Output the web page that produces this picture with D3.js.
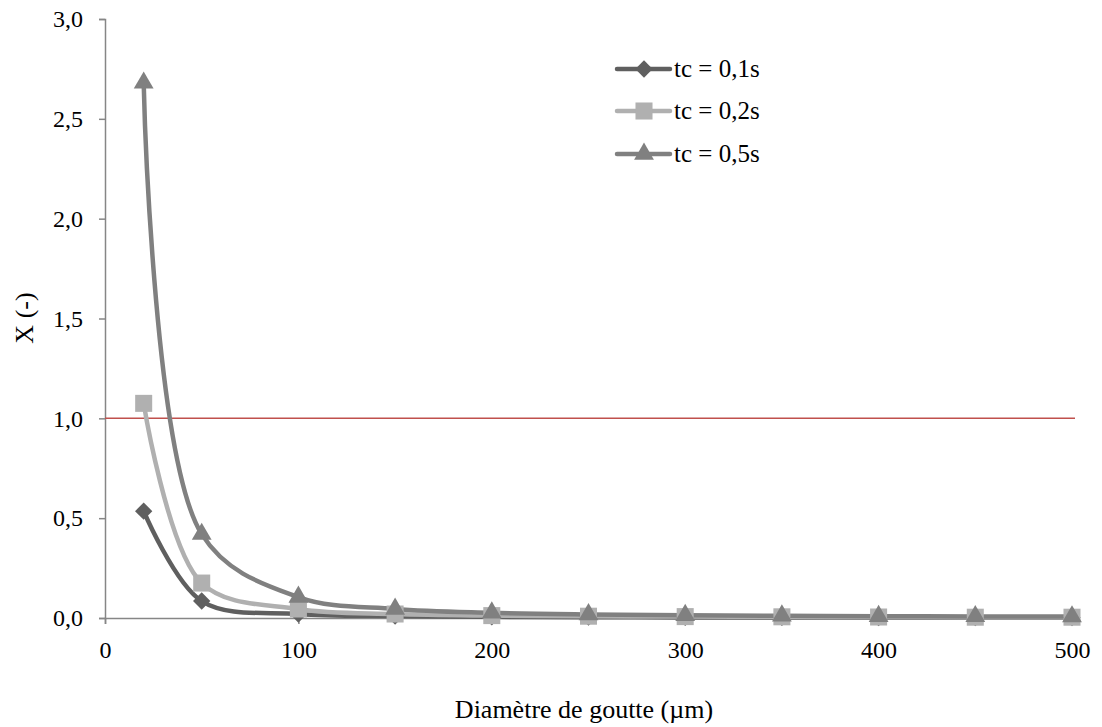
<!DOCTYPE html>
<html><head><meta charset="utf-8">
<script src="https://cdn.jsdelivr.net/npm/d3@7"></script>
<style>body{margin:0;background:#fff} #c, #c text{font-family:"Liberation Serif",serif !important}</style>
</head><body><svg id="c" width="1102" height="727" font-family="Liberation Serif"></svg>
<script>
const diameters = [20, 50, 100, 150, 200, 250, 300, 350, 400, 450, 500];
const tc01 = [0.535, 0.085, 0.02, 0.01, 0.006, 0.004, 0.003, 0.003, 0.002, 0.002, 0.002];
const tc02 = [1.075, 0.175, 0.045, 0.02, 0.012, 0.009, 0.007, 0.006, 0.005, 0.004, 0.004];
const tc05 = [2.68, 0.42, 0.105, 0.045, 0.026, 0.018, 0.014, 0.011, 0.009, 0.008, 0.007];
const seriesNames = ["tc = 0,1s", "tc = 0,2s", "tc = 0,5s"];
const xTicks = [0, 100, 200, 300, 400, 500];
const yTicks = [0, 0.5, 1.0, 1.5, 2.0, 2.5, 3.0];
const threshold = 1.0;

const FONT = "Liberation Serif";
const svg = d3.select("#c");
const x = d3.scaleLinear().domain([0, 500]).range([105, 1072]);
const y = d3.scaleLinear().domain([0, 3]).range([618, 19]);
const fmt = d => d.toFixed(1).replace(".", ",");

const axisColor = "#868686";
const ya = svg.append("g").attr("transform", "translate(105,0)")
  .call(d3.axisLeft(y).tickValues(yTicks).tickFormat(fmt).tickSize(6).tickPadding(16));
ya.attr("font-family", FONT).attr("font-size", 24);
ya.select(".domain").attr("stroke", axisColor).attr("stroke-width", 1.5);
ya.selectAll(".tick line").attr("stroke", axisColor).attr("stroke-width", 1.5);
ya.selectAll(".tick text").attr("fill", "#000");

const xa = svg.append("g").attr("transform", "translate(0,618)")
  .call(d3.axisBottom(x).tickValues(xTicks).tickFormat(d3.format("d")).tickSize(6).tickPadding(17));
xa.attr("font-family", FONT).attr("font-size", 24);
xa.select(".domain").attr("stroke", axisColor).attr("stroke-width", 1.5);
xa.selectAll(".tick line").attr("stroke", axisColor).attr("stroke-width", 1.5);
xa.selectAll(".tick text").attr("fill", "#000");

svg.append("line").attr("x1", x(0)).attr("x2", 1075).attr("y1", y(threshold)).attr("y2", y(threshold))
  .attr("stroke", "#c0504d").attr("stroke-width", 1.5);

const series = [
  {name: seriesNames[0], vals: tc01, color: "#5f5f5f", shape: d3.symbolSquare, size: 150, rot: 45},
  {name: seriesNames[1], vals: tc02, color: "#b0b0b0", shape: d3.symbolSquare, size: 290, rot: 0},
  {name: seriesNames[2], vals: tc05, color: "#808080", shape: d3.symbolTriangle, size: 170, rot: 0},
];
const line = d3.line().x(d => x(d[0])).y(d => y(d[1])).curve(d3.curveCatmullRom.alpha(0.5));

series.forEach(s => {
  const pts = diameters.map((d, i) => [d, s.vals[i]]);
  svg.append("path").attr("d", line(pts)).attr("fill", "none").attr("stroke", s.color)
    .attr("stroke-width", 4.5).attr("stroke-linecap", "round");
});
series.forEach(s => {
  const pts = diameters.map((d, i) => [d, s.vals[i]]);
  svg.append("g").selectAll("path").data(pts).join("path")
    .attr("transform", d => `translate(${x(d[0])},${y(d[1])}) rotate(${s.rot})`)
    .attr("d", d3.symbol().type(s.shape).size(s.size)).attr("fill", s.color);
});

const legY = [69, 111, 154];
series.forEach((s, i) => {
  const g = svg.append("g").attr("transform", `translate(0,${legY[i]})`);
  g.append("line").attr("x1", 617).attr("x2", 670).attr("y1", 0).attr("y2", 0)
    .attr("stroke", s.color).attr("stroke-width", 4.5).attr("stroke-linecap", "round");
  g.append("path").attr("transform", `translate(644,0) rotate(${s.rot})`).attr("d", d3.symbol().type(s.shape).size(s.size)).attr("fill", s.color);
  g.append("text").attr("x", 674).attr("y", 8).attr("font-size", 25).text(s.name);
});

svg.append("text").attr("x", 584).attr("y", 718).attr("text-anchor", "middle").attr("font-size", 26).text("Diamètre de goutte (µm)");
svg.append("text").attr("transform", "translate(33,318) rotate(-90)").attr("text-anchor", "middle").attr("font-size", 26).text("X (-)");
svg.selectAll("text").each(function(){ this.style.setProperty("font-family", "Liberation Serif", "important"); });
</script></body></html>
